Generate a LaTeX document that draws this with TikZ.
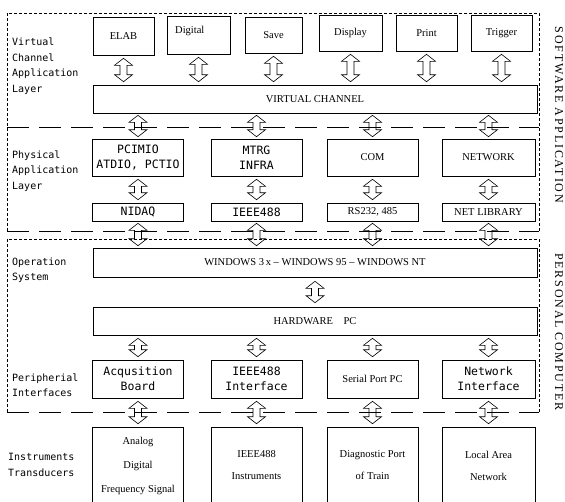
\documentclass[tikz,border=0pt]{standalone}
\usepackage{fontspec}
\setmainfont{Liberation Serif}
\newfontfamily\monofont{DejaVu Sans Mono}
\newfontfamily\sidefont[LetterSpace=15]{Liberation Serif}
\usetikzlibrary{calc}

\tikzset{
	box/.style={draw,line width=0.6pt,inner sep=1pt,align=center,font=\fontsize{10.5}{12}\selectfont},
	mbox/.style={box,font=\monofont\fontsize{11.5}{15}\selectfont},
	layer/.style={anchor=west,align=left,inner sep=0pt,font=\monofont\fontsize{10}{15.5}\selectfont},
	side/.style={rotate=-90,inner sep=0pt,font=\sidefont\fontsize{12}{14}\selectfont},
	frame/.style={line width=0.5pt,dash pattern=on 3pt off 2pt},
	divide/.style={line width=0.6pt,dash pattern=on 22pt off 10pt},
	dbl/.style={line width=0.6pt,to path={
		let \p1=(\tikztostart), \p2=(\tikztotarget) in
		-- (\x1+9pt,\y1-7pt) -- (\x1+3.5pt,\y1-7pt) -- (\x1+3.5pt,\y2+7pt) -- (\x1+9pt,\y2+7pt)
		-- (\x1,\y2) -- (\x1-9pt,\y2+7pt) -- (\x1-3.5pt,\y2+7pt) -- (\x1-3.5pt,\y1-7pt)
		-- (\x1-9pt,\y1-7pt) -- cycle}}
}

\begin{document}
\begin{tikzpicture}[x=1pt,y=-1pt]
	\useasboundingbox (0,0) rectangle (565,501);
	% Software application / personal computer frames
	\draw[frame] (7,231) -- (7,13) -- (539,13) -- (539,231);
	\draw[divide] (7,231) -- (539,231);
	\draw[divide] (7,127) -- (539,127);
	\draw[frame] (7,412) -- (7,239) -- (539,239) -- (539,412);
	\draw[divide] (7,412) -- (539,412);
	
	\node[layer] (vlayer) at (12,66) {Virtual\\Channel\\Application\\Layer};
	\node[layer] (player) at (12,171) {Physical\\Application\\Layer};
	\node[layer] (oslayer) at (12,270) {Operation\\System};
	\node[layer] (pilayer) at (12,385) {Peripherial\\Interfaces};
	\node[layer] (itlayer) at (8,465) {Instruments\\Transducers};
	\node[side] (swapp) at (559,115) {SOFTWARE APPLICATION};
	\node[side] (perpc) at (559,332) {PERSONAL COMPUTER};
	
	\node[box,minimum width=61,minimum height=38] (elab) at (123.5,36) {ELAB};
	\node[box,minimum width=63,minimum height=38,label={[anchor=north west,xshift=5pt,yshift=-7pt,font=\fontsize{10.5}{12}\selectfont]north west:Digital}] (digital) at (198.5,35) {};
	\node[box,minimum width=57,minimum height=36,text depth=-8pt] (save) at (273.5,35) {Save};
	\node[box,minimum width=63,minimum height=36] (display) at (350.5,33) {Display};
	\node[box,minimum width=61,minimum height=36] (print) at (426.5,33) {Print};
	\node[box,minimum width=61,minimum height=36] (trigger) at (501.5,33) {Trigger};
	\node[box,minimum width=444,minimum height=28] (vchan) at (315,99) {VIRTUAL CHANNEL};
	
	\node[mbox,minimum width=91,minimum height=37] (pcimio) at (138,157.5) {PCIMIO\\ATDIO, PCTIO};
	\node[mbox,minimum width=91,minimum height=37] (mtrg) at (256.5,157.5) {MTRG\\INFRA};
	\node[box,minimum width=91,minimum height=37] (com) at (372.5,157.5) {COM};
	\node[box,minimum width=93,minimum height=37] (netw) at (488.5,157.5) {NETWORK};
	\node[mbox,minimum width=91,minimum height=18] (nidaq) at (138,212) {NIDAQ};
	\node[mbox,minimum width=91,minimum height=18] (ieeelib) at (256.5,212) {IEEE488};
	\node[box,minimum width=91,minimum height=18] (rs232) at (372.5,212) {RS232, 485};
	\node[box,minimum width=93,minimum height=18] (netlib) at (488.5,212) {NET LIBRARY};
	
	\node[box,minimum width=444,minimum height=29] (windows) at (315,262.5) {WINDOWS 3\,x -- WINDOWS 95 -- WINDOWS NT};
	\node[box,minimum width=444,minimum height=28] (hwpc) at (315,321) {HARDWARE\quad PC};
	
	\node[mbox,minimum width=91,minimum height=38] (acq) at (138,379) {Acqusition\\Board};
	\node[mbox,minimum width=91,minimum height=38] (ieeeif) at (256.5,379) {IEEE488\\Interface};
	\node[box,minimum width=91,minimum height=38] (serial) at (372.5,379) {Serial Port PC};
	\node[mbox,minimum width=93,minimum height=38] (netif) at (488.5,379) {Network\\Interface};
	
	\node[box,minimum width=91,minimum height=77] (analog) at (138,465.5) {Analog\\[12pt]Digital\\[12pt]Frequency Signal};
	\node[box,minimum width=91,minimum height=77] (instr) at (256.5,465.5) {IEEE488\\[10pt]Instruments};
	\node[box,minimum width=91,minimum height=77] (diag) at (372.5,465.5) {Diagnostic Port\\[10pt]of Train};
	\node[box,minimum width=93,minimum height=77] (lan) at (488.5,465.5) {Local Area\\[10pt]Network};
	
	\draw[dbl] ([yshift=-3pt]elab.south) to ([yshift=3pt]elab.south |- vchan.north);
	\draw[dbl] ([yshift=-3pt]digital.south) to ([yshift=3pt]digital.south |- vchan.north);
	\draw[dbl] ([yshift=-3pt]save.south) to ([yshift=3pt]save.south |- vchan.north);
	\draw[dbl] ([yshift=-3pt]display.south) to ([yshift=3pt]display.south |- vchan.north);
	\draw[dbl] ([yshift=-3pt]print.south) to ([yshift=3pt]print.south |- vchan.north);
	\draw[dbl] ([yshift=-3pt]trigger.south) to ([yshift=3pt]trigger.south |- vchan.north);
	
	\draw[dbl] ([yshift=-2pt]pcimio.north |- vchan.south) to ([yshift=2pt]pcimio.north);
	\draw[dbl] ([yshift=-2pt]mtrg.north |- vchan.south) to ([yshift=2pt]mtrg.north);
	\draw[dbl] ([yshift=-2pt]com.north |- vchan.south) to ([yshift=2pt]com.north);
	\draw[dbl] ([yshift=-2pt]netw.north |- vchan.south) to ([yshift=2pt]netw.north);
	\draw[dbl] ([yshift=-3pt]pcimio.south) to ([yshift=3pt]nidaq.north);
	\draw[dbl] ([yshift=-3pt]mtrg.south) to ([yshift=3pt]ieeelib.north);
	\draw[dbl] ([yshift=-3pt]com.south) to ([yshift=3pt]rs232.north);
	\draw[dbl] ([yshift=-3pt]netw.south) to ([yshift=3pt]netlib.north);
	\draw[dbl] ([yshift=-2pt]nidaq.south) to ([yshift=2pt]nidaq.south |- windows.north);
	\draw[dbl] ([yshift=-2pt]ieeelib.south) to ([yshift=2pt]ieeelib.south |- windows.north);
	\draw[dbl] ([yshift=-2pt]rs232.south) to ([yshift=2pt]rs232.south |- windows.north);
	\draw[dbl] ([yshift=-2pt]netlib.south) to ([yshift=2pt]netlib.south |- windows.north);
	
	\draw[dbl] ([yshift=-4pt]windows.south) to ([yshift=4pt]hwpc.north);
	\draw[dbl] ([yshift=-3pt]acq.north |- hwpc.south) to ([yshift=3pt]acq.north);
	\draw[dbl] ([yshift=-3pt]ieeeif.north |- hwpc.south) to ([yshift=3pt]ieeeif.north);
	\draw[dbl] ([yshift=-3pt]serial.north |- hwpc.south) to ([yshift=3pt]serial.north);
	\draw[dbl] ([yshift=-3pt]netif.north |- hwpc.south) to ([yshift=3pt]netif.north);
	\draw[dbl] ([yshift=-3pt]acq.south) to ([yshift=3pt]analog.north);
	\draw[dbl] ([yshift=-3pt]ieeeif.south) to ([yshift=3pt]instr.north);
	\draw[dbl] ([yshift=-3pt]serial.south) to ([yshift=3pt]diag.north);
	\draw[dbl] ([yshift=-3pt]netif.south) to ([yshift=3pt]lan.north);
\end{tikzpicture}
\end{document}
